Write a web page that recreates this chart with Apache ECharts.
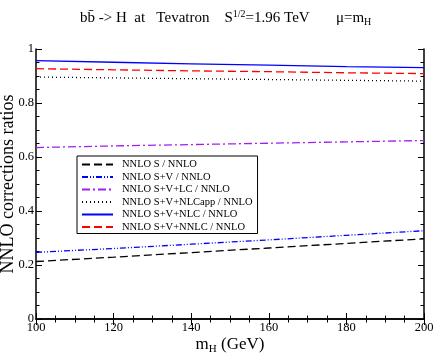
<!DOCTYPE html>
<html><head><meta charset="utf-8">
<script src="https://cdn.jsdelivr.net/npm/echarts@6/dist/echarts.min.js"></script>
<style>html,body{margin:0;padding:0;background:#fff}#c{width:436px;height:356px}</style>
</head><body><div id="c"></div>
<script>
var mH = [100, 120, 140, 160, 180, 200];
var seriesNames = ['NNLO S / NNLO','NNLO S+V / NNLO','NNLO S+V+LC / NNLO','NNLO S+V+NLCapp / NNLO','NNLO S+V+NLC / NNLO','NNLO S+V+NNLC / NNLO'];
var valS      = [0.213, 0.229, 0.246, 0.263, 0.280, 0.297];
var valSV     = [0.247, 0.261, 0.277, 0.293, 0.310, 0.327];
var valLC     = [0.635, 0.641, 0.646, 0.651, 0.656, 0.661];
var valNLCapp = [0.896, 0.893, 0.890, 0.887, 0.884, 0.881];
var valNLC    = [0.957, 0.951, 0.945, 0.940, 0.935, 0.931];
var valNNLC   = [0.927, 0.923, 0.919, 0.916, 0.912, 0.909];
var yTicks = [0, 0.2, 0.4, 0.6, 0.8, 1];

var allVals = [valS, valSV, valLC, valNLCapp, valNLC, valNNLC];
var colors = ['#000000','#0000ff','#a020f0','#000000','#0000ff','#ff0000'];
var dashes = [[8,4],[6,2,1,2,1,2],[8,3,2,3],[1,3],'solid',[8,4]];
var font = '"Liberation Serif", "DejaVu Serif", serif';

var series = allVals.map(function(v,i){
  return {
    name: seriesNames[i], type:'line', symbol:'none', smooth:false,
    data: mH.map(function(x,j){return [x, v[j]];}),
    lineStyle:{color:colors[i], width:1.3, type:dashes[i]},
    itemStyle:{color:colors[i], opacity:0}
  };
});

var axisCommon = {
  axisLine:{show:true, lineStyle:{color:'#000', width:1.5}},
  axisTick:{show:true, inside:true, length:6, lineStyle:{color:'#000', width:1}},
  minorTick:{show:true, splitNumber:4, length:3.5, lineStyle:{color:'#000', width:1}},
  splitLine:{show:false}
};

var chart = echarts.init(document.getElementById('c'));
chart.setOption({
  animation:false,
  backgroundColor:'#fff',
  title:{
    text:'bb\u0304 -> H  at   Tevatron    S{sup|1/2}=1.96 TeV       μ=m{sub|H}',
    left:75, top:4,
    textStyle:{fontFamily:font, fontSize:15, fontWeight:'normal', color:'#000',
      rich:{sup:{fontFamily:font, fontSize:10, verticalAlign:'top', padding:[0,0,8,0]},
            sub:{fontFamily:font, fontSize:10, padding:[8,0,0,0]}}}
  },
  grid:{left:36, right:12, top:49, bottom:37, containLabel:false, outerBoundsMode:'none'},
  legend:{
    orient:'vertical', left:77, top:156,
    data: seriesNames,
    itemWidth:31, itemHeight:10, itemGap:1.5,
    padding:[3,5,1,4],
    borderColor:'#000', borderWidth:1,
    itemStyle:{opacity:0},
    textStyle:{fontFamily:font, fontSize:10.5, lineHeight:10, color:'#000', padding:[0,0,0,4]}
  },
  xAxis:[
    Object.assign({type:'value', min:100, max:200, interval:20, position:'bottom',
      name:'m{sub|H} (GeV)', nameLocation:'middle', nameGap:15, nameMoveOverlap:false,
      nameTextStyle:{fontFamily:font, fontSize:17, color:'#000',
        rich:{sub:{fontFamily:font, fontSize:11, padding:[10,0,0,0]}}},
      axisLabel:{fontFamily:font, fontSize:12.5, color:'#000', margin:2}}, axisCommon),
    Object.assign({type:'value', min:100, max:200, interval:20, position:'top',
      axisLabel:{show:false}}, axisCommon)
  ],
  yAxis:[
    Object.assign({type:'value', min:0, max:1, interval:0.2, position:'left',
      name:'NNLO corrections ratios', nameLocation:'middle', nameGap:19, nameMoveOverlap:false,
      nameTextStyle:{fontFamily:font, fontSize:18, color:'#000'},
      axisLabel:{fontFamily:font, fontSize:12.5, color:'#000', margin:2,
        formatter:function(v){ return yTicks.indexOf(Math.round(v*10)/10) >= 0 ? String(Math.round(v*10)/10) : ''; }}}, axisCommon),
    Object.assign({type:'value', min:0, max:1, interval:0.2, position:'right',
      axisLabel:{show:false}}, axisCommon)
  ],
  series: series
});
</script></body></html>
